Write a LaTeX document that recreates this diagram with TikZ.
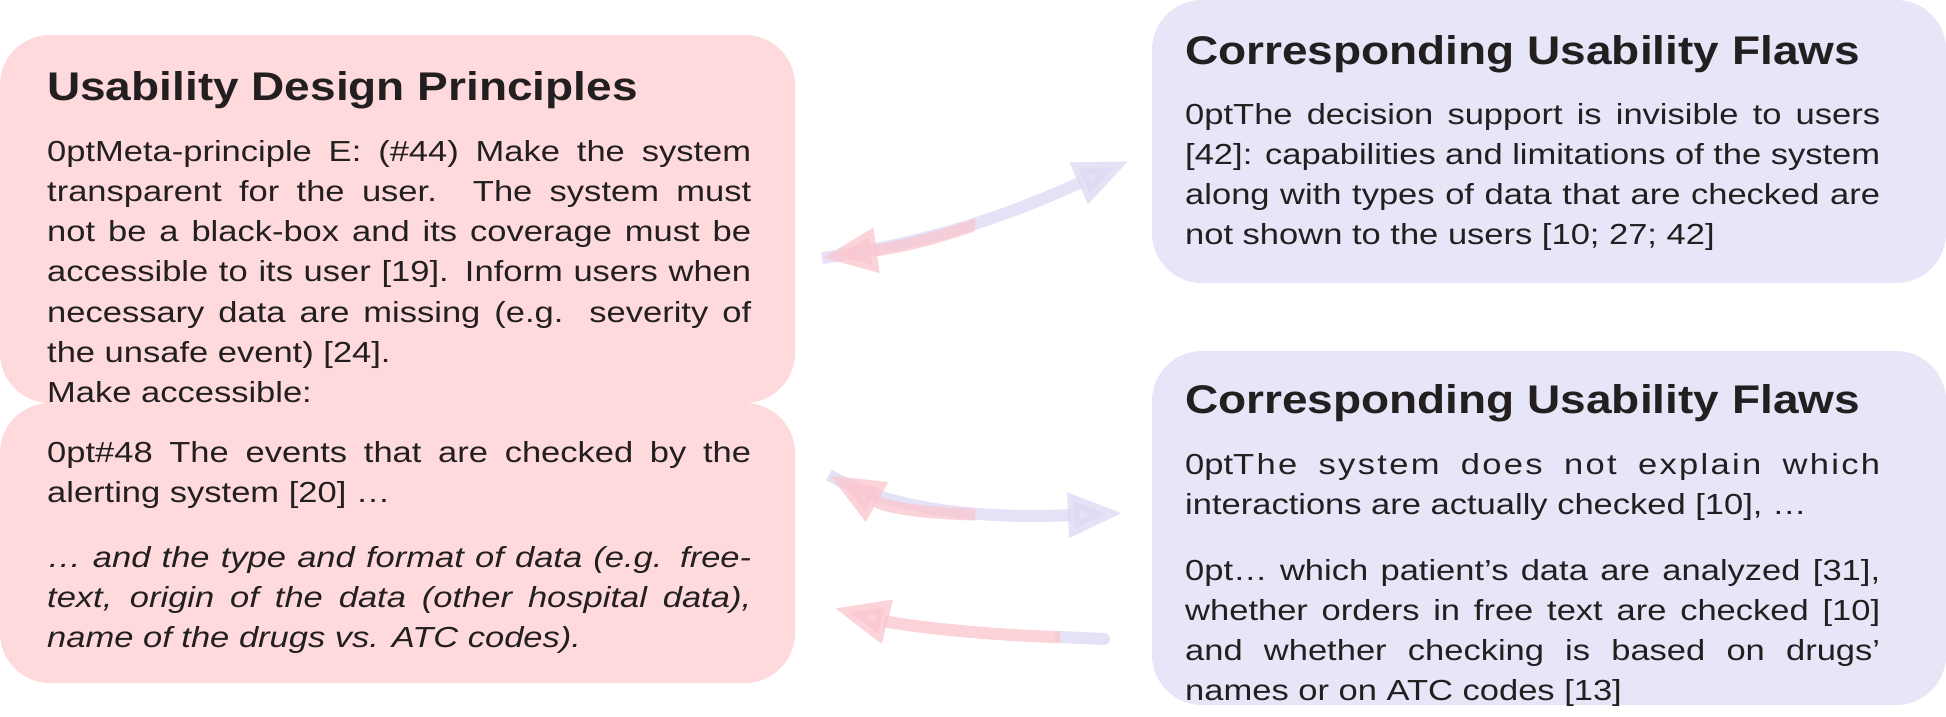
\documentclass[tikz,border=0pt]{standalone}
\usepackage{fontspec}
\setmainfont{Liberation Sans}[FakeStretch=1.19]
\newfontfamily\ttlfont{Liberation Sans}[FakeStretch=1.15]
\usetikzlibrary{arrows.meta}
\definecolor{pinkbox}{RGB}{255,218,220}
\definecolor{lavbox}{RGB}{231,229,248}
\definecolor{pinkarr}{RGB}{250,200,208}
\definecolor{lavarr}{RGB}{222,218,245}
\definecolor{txt}{RGB}{35,31,32}
\tikzset{
 boxl/.style={fill=pinkbox,rounded corners=50pt,draw=none},
 boxr/.style={fill=lavbox,rounded corners=50pt,draw=none},
 ttl/.style={anchor=base west,inner sep=0,text=txt,font=\fontsize{40}{48}\ttlfont\bfseries},
 para/.style={anchor=base west,inner sep=0,text=txt,text width=#1,align=justify,font=\fontsize{29}{40.3}\selectfont\hyphenpenalty=10000\relax},
 arr/.style={line width=12pt,-{Triangle[length=55pt,width=42pt]}},
}
\begin{document}
\begin{tikzpicture}[x=1pt,y=1pt]
\useasboundingbox (0,0) rectangle (1946,-716);
\fill[boxl] (0,-35) rectangle (795,-403);
\fill[boxl] (0,-403) rectangle (795,-683);
\fill[boxr] (1152,0) rectangle (1946,-283);
\fill[boxr] (1152,-351) rectangle (1946,-705);
% left
\node[ttl] (lt) at (47,-100) {Usability Design Principles};
\node[para=704pt] (lp1) at (47,-161) {\hyphenpenalty=10000 Meta-principle E: (\#44) Make the system transparent for the user. The system must not be a black-box and its coverage must be accessible to its user [19]. Inform users when necessary data are missing (e.g. severity of the unsafe event) [24].\par Make accessible:};
\node[para=704pt] (lp2) at (47,-462) {\hyphenpenalty=10000 \#48 The events that are checked by the alerting system [20] \dots};
\node[para=704pt,font=\fontsize{29}{40.3}\selectfont\itshape] (lp3) at (47,-567) {\hyphenpenalty=10000 \dots\ and the type and format of data (e.g. free-text, origin of the data (other hospital data), name of the drugs vs. ATC codes).};
% right top
\node[ttl] (rt1) at (1185,-64) {Corresponding Usability Flaws};
\node[para=695pt] (rp1) at (1185,-124) {\hyphenpenalty=10000 The decision support is invisible to users [42]: capabilities and limitations of the system along with types of data that are checked are not shown to the users [10; 27; 42]};
% right bottom
\node[ttl] (rt2) at (1185,-413) {Corresponding Usability Flaws};
\node[para=695pt] (rp2) at (1185,-474) {\hyphenpenalty=10000 {\addfontfeatures{LetterSpace=8}The system does not explain which}\linebreak interactions are actually checked [10], \dots};
\node[para=695pt] (rp3) at (1185,-580) {\hyphenpenalty=10000 \dots\ which patient\char39 s data are analyzed [31], whether orders in free text are checked [10] and whether checking is based on drugs\char39\ names or on ATC codes [13]};
% arrows
\coordinate (a1l) at (822,-258); \coordinate (a1r) at (1129,-161);
\coordinate (a2l) at (829,-475); \coordinate (a2r) at (1123,-513);
\coordinate (a3s) at (1104,-639); \coordinate (a3e) at (834,-608);
\begin{scope}[opacity=0.8]
\draw[arr,lavarr] (a1l) .. controls (950,-240) and (1030,-205) .. (a1r);
\begin{scope}\clip (800,-100) rectangle (975,-300);
\draw[arr,pinkarr] (a1r) .. controls (1030,-205) and (950,-240) .. (a1l);\end{scope}
\draw[arr,lavarr] (a2l) .. controls (900,-515) and (1000,-518) .. (a2r);
\begin{scope}\clip (800,-440) rectangle (975,-560);
\draw[arr,pinkarr] (a2r) .. controls (1000,-518) and (900,-515) .. (a2l);\end{scope}
\draw[line width=12pt,lavarr,line cap=round] (a3s) -- (1060,-637);
\draw[arr,pinkarr] (1060,-637) .. controls (980,-635) and (900,-625) .. (a3e);
\end{scope}
\end{tikzpicture}
\end{document}
